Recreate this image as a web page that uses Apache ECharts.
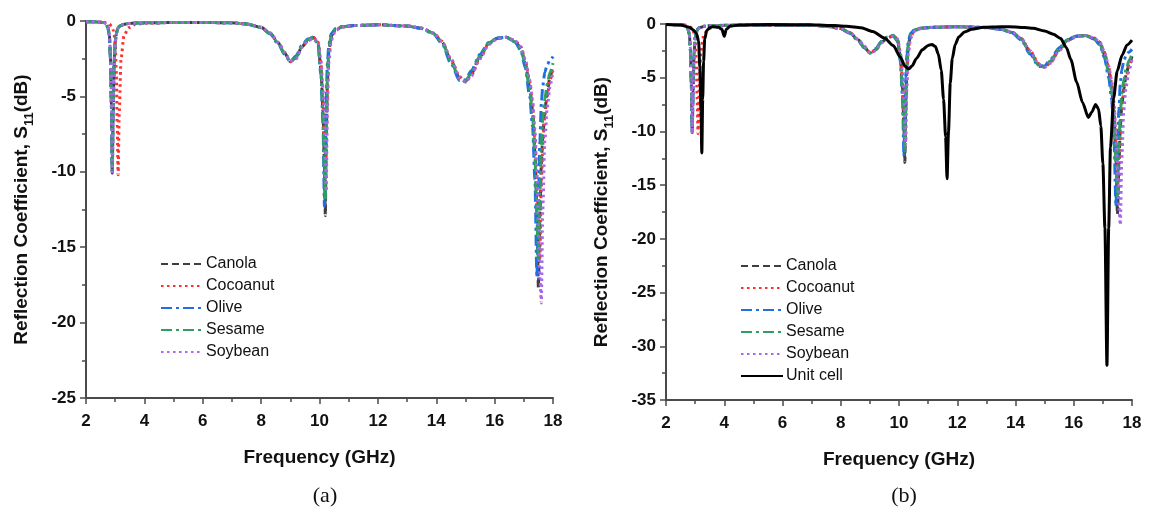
<!DOCTYPE html>
<html>
<head>
<meta charset="utf-8">
<title>Reflection coefficient S11</title>
<script src="https://cdn.jsdelivr.net/npm/echarts@6/dist/echarts.min.js"></script>
<style>
  html, body { margin: 0; padding: 0; background: #fff; }
  #chart { width: 1158px; height: 513px; }
</style>
</head>
<body>
<div id="chart"></div>
<script>
// Frequency grid (GHz) shared by the oil-loaded sensor responses
const freqOil = [
  2.0, 2.4, 2.6, 2.7, 2.75, 2.8, 2.84, 2.87, 2.9, 2.93,
  2.96, 3.0, 3.04, 3.07, 3.1, 3.14, 3.2, 3.3, 3.45, 3.7,
  4.0, 5, 6, 7, 7.5, 8.0, 8.3, 8.6, 8.8, 9.0,
  9.2, 9.4, 9.6, 9.8, 9.95, 10.05, 10.12, 10.17, 10.2, 10.23,
  10.27, 10.32, 10.4, 10.55, 10.8, 11.2, 12, 13, 13.5, 13.9,
  14.2, 14.5, 14.8, 15.0, 15.2, 15.5, 15.8, 16.1, 16.4, 16.7,
  16.9, 17.05, 17.2, 17.3, 17.38, 17.45, 17.5, 17.55, 17.6, 17.65,
  17.72, 17.8, 17.9, 18.0
];

// S11 (dB) for each oil sample
const canola = [
  -0.05, -0.06, -0.1, -0.22, -0.4, -0.9, -2.4, -5.5, -10.1, -6.2,
  -3.0, -1.4, -0.85, -0.6, -0.45, -0.36, -0.3, -0.22, -0.17, -0.14,
  -0.12, -0.1, -0.1, -0.12, -0.2, -0.42, -0.8, -1.47, -2.1, -2.7,
  -2.4, -1.7, -1.3, -1.1, -1.5, -3.2, -6.0, -9.5, -12.9, -8.0,
  -4.0, -2.0, -1.0, -0.55, -0.38, -0.3, -0.25, -0.33, -0.48, -0.8,
  -1.4, -2.6, -3.8, -4.0, -3.5, -2.36, -1.48, -1.15, -1.08, -1.37,
  -1.8, -2.8, -4.35, -5.9, -8.5, -12.5, -17.7, -13.0, -9.5, -7.6,
  -6.0, -4.7, -3.7, -3.0
];
const cocoanut = [
  -0.05, -0.06, -0.08, -0.12, -0.15, -0.2, -0.27, -0.35, -0.45, -0.6,
  -0.85, -1.5, -3.5, -7.0, -10.2, -6.0, -2.5, -1.0, -0.45, -0.22,
  -0.15, -0.1, -0.1, -0.12, -0.2, -0.42, -0.8, -1.45, -2.1, -2.7,
  -2.45, -1.7, -1.3, -1.1, -1.4, -2.8, -5.2, -8.5, -11.6, -8.5,
  -4.5, -2.2, -1.1, -0.58, -0.4, -0.3, -0.25, -0.33, -0.48, -0.8,
  -1.35, -2.5, -3.7, -4.05, -3.6, -2.45, -1.5, -1.15, -1.08, -1.3,
  -1.7, -2.6, -4.0, -5.5, -7.8, -11.0, -14.5, -15.8, -11.0, -8.2,
  -6.3, -5.0, -3.9, -3.1
];
const olive = [
  -0.05, -0.06, -0.1, -0.24, -0.45, -1.0, -2.6, -5.8, -10.0, -6.0,
  -2.9, -1.4, -0.85, -0.6, -0.45, -0.36, -0.3, -0.22, -0.17, -0.14,
  -0.12, -0.1, -0.1, -0.12, -0.2, -0.44, -0.85, -1.55, -2.2, -2.7,
  -2.3, -1.6, -1.2, -1.05, -1.6, -3.6, -6.8, -12.3, -9.0, -5.0,
  -2.8, -1.6, -0.85, -0.5, -0.36, -0.3, -0.25, -0.34, -0.5, -0.85,
  -1.5, -2.8, -3.95, -3.9, -3.3, -2.2, -1.42, -1.12, -1.08, -1.4,
  -1.95, -3.1, -5.0, -7.0, -10.5, -17.0, -12.0, -8.0, -5.5, -4.3,
  -3.4, -2.9, -2.6, -2.35
];
const sesame = [
  -0.05, -0.06, -0.1, -0.22, -0.42, -0.95, -2.5, -5.6, -10.0, -6.1,
  -3.0, -1.4, -0.85, -0.6, -0.45, -0.36, -0.3, -0.22, -0.17, -0.14,
  -0.12, -0.1, -0.1, -0.12, -0.2, -0.43, -0.82, -1.5, -2.15, -2.7,
  -2.4, -1.65, -1.25, -1.08, -1.5, -3.3, -6.2, -10.0, -11.85, -7.5,
  -3.8, -1.9, -0.95, -0.53, -0.37, -0.3, -0.25, -0.33, -0.48, -0.82,
  -1.42, -2.65, -3.85, -4.0, -3.45, -2.3, -1.45, -1.13, -1.08, -1.37,
  -1.85, -2.9, -4.5, -6.2, -9.0, -13.0, -16.0, -11.5, -8.3, -6.5,
  -5.2, -4.2, -3.4, -2.8
];
const soybean = [
  -0.05, -0.06, -0.1, -0.2, -0.38, -0.85, -2.2, -5.0, -10.2, -6.5,
  -3.2, -1.5, -0.9, -0.62, -0.46, -0.37, -0.3, -0.22, -0.17, -0.14,
  -0.12, -0.1, -0.1, -0.12, -0.2, -0.4, -0.78, -1.42, -2.05, -2.65,
  -2.5, -1.75, -1.33, -1.12, -1.4, -2.6, -4.5, -7.0, -9.5, -11.3,
  -6.0, -2.8, -1.3, -0.62, -0.4, -0.3, -0.25, -0.32, -0.47, -0.78,
  -1.35, -2.5, -3.75, -4.05, -3.65, -2.5, -1.55, -1.17, -1.08, -1.3,
  -1.7, -2.55, -3.9, -5.2, -7.2, -10.0, -13.5, -17.0, -18.7, -12.5,
  -8.0, -5.8, -4.3, -3.3
];

// Bare unit cell response
const freqUnit = [
  2.0, 2.5, 2.8, 2.94, 3.05, 3.12, 3.16, 3.2, 3.23, 3.26,
  3.29, 3.33, 3.4, 3.5, 3.6, 3.8, 3.92, 4.0, 4.07, 4.2,
  4.5, 5.5, 7.0, 7.8, 8.2, 8.7, 9.1, 9.5, 9.8, 10.05,
  10.2, 10.33, 10.45, 10.6, 10.8, 11.0, 11.13, 11.25, 11.35, 11.45,
  11.53, 11.6, 11.65, 11.7, 11.76, 11.83, 11.93, 12.05, 12.25, 12.5,
  12.9, 13.5, 14.0, 14.6, 15.0, 15.3, 15.55, 15.75, 15.9, 16.1,
  16.3, 16.5, 16.62, 16.75, 16.85, 16.93, 17.0, 17.07, 17.14, 17.2,
  17.26, 17.37, 17.49, 17.66, 17.83, 18.0
];
const unitCell = [
  -0.05, -0.1, -0.3, -0.55, -0.9, -1.6, -4.0, -8.0, -12.0, -7.0,
  -3.5, -1.4, -0.6, -0.35, -0.25, -0.3, -0.5, -1.15, -0.5, -0.2,
  -0.1, -0.05, -0.08, -0.15, -0.22, -0.35, -0.7, -1.3, -2.0, -3.1,
  -3.9, -4.2, -3.9, -3.2, -2.4, -2.0, -1.9, -2.1, -2.8, -4.3,
  -7.0, -10.5, -14.4, -10.0, -5.5, -3.2, -1.9, -1.2, -0.75, -0.5,
  -0.3, -0.25, -0.27, -0.4, -0.65, -0.95, -1.35, -2.2, -3.3, -5.4,
  -7.3, -8.7, -8.2, -7.5, -7.9, -9.5, -13.0, -19.0, -31.8, -19.0,
  -11.5, -6.9, -4.4, -2.9, -1.95, -1.5
];

// Axis ranges and tick labels
const xTicks = [2, 4, 6, 8, 10, 12, 14, 16, 18];
const yTicksA = [0, -5, -10, -15, -20, -25];
const yTicksB = [0, -5, -10, -15, -20, -25, -30, -35];
const panelLabels = ['(a)', '(b)'];

const oilNames = ['Canola', 'Cocoanut', 'Olive', 'Sesame', 'Soybean'];
const oilValues = [canola, cocoanut, olive, sesame, soybean];
const oilStyles = [
  { color: '#3f3f3f', type: [7, 4] },
  { color: '#ff2e2e', type: [2.5, 3.5] },
  { color: '#1f6fe3', type: [11, 4, 3, 4] },
  { color: '#2f9e62', type: [11, 4, 3, 4] },
  { color: '#a867e8', type: [2.5, 3.5] }
];

const FONT = 'Arial, "Liberation Sans", sans-serif';

function pairs(xs, ys) {
  return xs.map((x, i) => [x, ys[i]]);
}

function xAxisFor(gridIndex) {
  return {
    type: 'value', gridIndex: gridIndex,
    min: xTicks[0], max: xTicks[xTicks.length - 1], interval: 2,
    name: 'Frequency (GHz)', nameLocation: 'middle', nameGap: 50,
    nameTextStyle: { fontFamily: FONT, fontWeight: 'bold', fontSize: 19, color: '#111' },
    axisLine: { onZero: false, lineStyle: { color: '#4a4a4a', width: 2 } },
    axisTick: { length: 6, lineStyle: { color: '#4a4a4a', width: 1.5 } },
    minorTick: { show: true, splitNumber: 2, length: 4, lineStyle: { color: '#4a4a4a', width: 1.5 } },
    axisLabel: { fontFamily: FONT, fontWeight: 'bold', fontSize: 17, color: '#111', margin: 15 },
    splitLine: { show: false }
  };
}

function yAxisFor(gridIndex, ticks) {
  return {
    type: 'value', gridIndex: gridIndex,
    min: ticks[ticks.length - 1], max: ticks[0], interval: 5,
    name: '{b|Reflection Coefficient, S}{s|11}{b|(dB)}',
    nameLocation: 'middle', nameGap: 50, nameRotate: 90,
    nameTextStyle: {
      rich: {
        b: { fontFamily: FONT, fontWeight: 'bold', fontSize: 19, color: '#111', lineHeight: 28 },
        s: { fontFamily: FONT, fontWeight: 'bold', fontSize: 13, color: '#111', verticalAlign: 'bottom' }
      }
    },
    axisLine: { show: true, onZero: false, lineStyle: { color: '#4a4a4a', width: 2 } },
    axisTick: { length: 6, lineStyle: { color: '#4a4a4a', width: 1.5 } },
    minorTick: { show: true, splitNumber: 2, length: 4, lineStyle: { color: '#4a4a4a', width: 1.5 } },
    axisLabel: { fontFamily: FONT, fontWeight: 'bold', fontSize: 17, color: '#111', margin: 10 },
    splitLine: { show: false }
  };
}

const series = [];
[0, 1].forEach(function (g) {
  oilNames.forEach(function (name, i) {
    series.push({
      name: name, type: 'line', xAxisIndex: g, yAxisIndex: g,
      data: pairs(freqOil, oilValues[i]),
      symbol: 'none', smooth: 0.25, smoothMonotone: 'x',
      lineStyle: { color: oilStyles[i].color, type: oilStyles[i].type, width: 3 },
      itemStyle: { color: oilStyles[i].color },
      z: 2 + i
    });
  });
});
series.push({
  name: 'Unit cell', type: 'line', xAxisIndex: 1, yAxisIndex: 1,
  data: pairs(freqUnit, unitCell),
  symbol: 'none', smooth: 0.25, smoothMonotone: 'x',
  lineStyle: { color: '#000', type: 'solid', width: 3 },
  itemStyle: { color: '#000' },
  z: 10
});

// Legend keys show only the line pattern, no marker
const legendCommon = {
  orient: 'vertical',
  itemWidth: 42, itemHeight: 14, itemGap: 6,
  itemStyle: { opacity: 0 },
  textStyle: { fontFamily: FONT, fontSize: 16, color: '#111', padding: [0, 0, 0, -2] },
  selectedMode: false
};

const option = {
  animation: false,
  backgroundColor: '#fff',
  grid: [
    { left: 86, top: 21, width: 467, height: 377 },
    { left: 666, top: 24, width: 466, height: 376 }
  ],
  xAxis: [xAxisFor(0), xAxisFor(1)],
  yAxis: [yAxisFor(0, yTicksA), yAxisFor(1, yTicksB)],
  legend: [
    Object.assign({}, legendCommon, { left: 155, top: 251, data: oilNames }),
    Object.assign({}, legendCommon, { left: 735, top: 253, data: oilNames.concat(['Unit cell']) })
  ],
  title: [
    { text: panelLabels[0], left: 320, top: 480, textAlign: 'center',
      textStyle: { fontFamily: '"Liberation Serif", "Times New Roman", serif', fontWeight: 'normal', fontSize: 22, color: '#111' } },
    { text: panelLabels[1], left: 899, top: 480, textAlign: 'center',
      textStyle: { fontFamily: '"Liberation Serif", "Times New Roman", serif', fontWeight: 'normal', fontSize: 22, color: '#111' } }
  ],
  series: series
};

const chart = echarts.init(document.getElementById('chart'), null, { renderer: 'canvas' });
chart.setOption(option);
</script>
</body>
</html>
